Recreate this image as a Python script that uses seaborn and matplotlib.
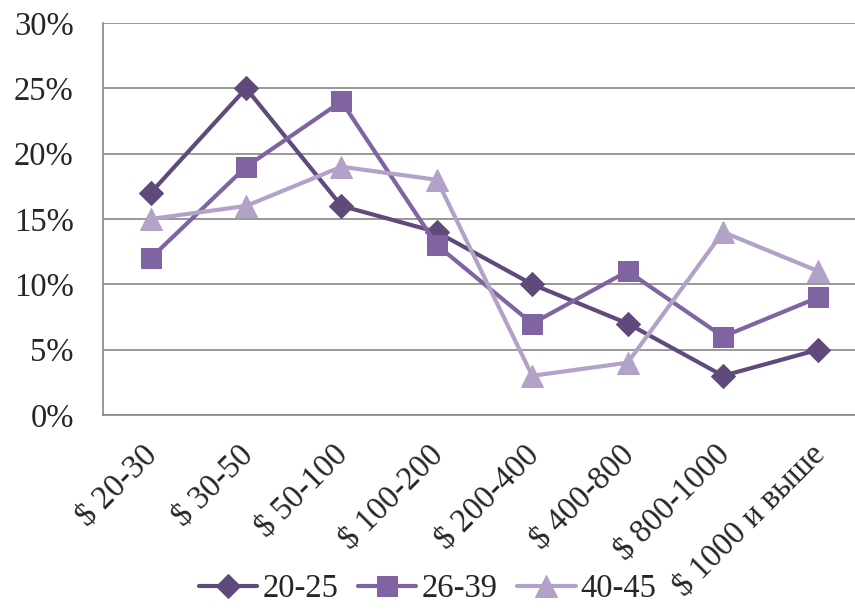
import numpy as np
import pandas as pd
import seaborn as sns
import matplotlib.pyplot as plt
from matplotlib.ticker import FixedLocator, PercentFormatter
from matplotlib.transforms import ScaledTranslation

categories = ["$ 20-30", "$ 30-50", "$ 50-100", "$ 100-200", "$ 200-400",
              "$ 400-800", "$ 800-1000", "$ 1000 и выше"]
groups = ["20-25", "26-39", "40-45"]
vals_20_25 = [17, 25, 16, 14, 10, 7, 3, 5]
vals_26_39 = [12, 19, 24, 13, 7, 11, 6, 9]
vals_40_45 = [15, 16, 19, 18, 3, 4, 14, 11]

colors = ["#604a7b", "#8064a2", "#b3a2c7"]
markers = ["D", "s", "^"]
msizes = [12, 15, 16]

df = pd.DataFrame({
    "cat": categories * 3,
    "group": np.repeat(groups, len(categories)),
    "value": vals_20_25 + vals_26_39 + vals_40_45,
})
df["x"] = df["cat"].map({c: i for i, c in enumerate(categories)})

sns.set_style("white")
plt.rcParams["font.family"] = ["Liberation Serif", "DejaVu Serif"]

fig = plt.figure(figsize=(8.55, 6.09), dpi=100)
ax = fig.add_axes([0.1205, 0.3186, 0.8925, 0.6436])

for g, c, m, ms in zip(groups, colors, markers, msizes):
    sub = df[df["group"] == g]
    sns.lineplot(data=sub, x="x", y="value", ax=ax, color=c, linewidth=3,
                 marker=m, markersize=ms, markeredgecolor=c, label=g,
                 sort=False)

grid_c = "#868686"
fs = 23.5
ax.set_xlim(-0.5, 7.5)
ax.set_ylim(0, 30)
ax.set_yticks(range(0, 31, 5))
ax.yaxis.set_major_formatter(PercentFormatter(decimals=0))
ax.grid(axis="y", color=grid_c, linewidth=1.2)
ax.set_axisbelow(True)

ax.set_xticks(range(len(categories)))
ax.set_xticklabels(categories, rotation=45, ha="right", rotation_mode="anchor")
ax.xaxis.set_minor_locator(FixedLocator(np.arange(-0.5, 8, 1)))
ax.tick_params(axis="x", which="major", length=0, pad=16, labelsize=fs)
ax.tick_params(axis="x", which="minor", length=8, color=grid_c, width=1.2)
ax.tick_params(axis="y", length=9, color=grid_c, width=1.2, labelsize=fs, pad=12)

# nudge rotated labels slightly left/down
shift = ScaledTranslation(-0.09, -0.02, fig.dpi_scale_trans)
for lab in ax.get_xticklabels():
    lab.set_transform(lab.get_transform() + shift)

for s in ["top", "right"]:
    ax.spines[s].set_visible(False)
for s in ["left", "bottom"]:
    ax.spines[s].set_color(grid_c)
    ax.spines[s].set_linewidth(1.2)

ax.set_xlabel("")
ax.set_ylabel("")
ax.legend(loc="lower center", bbox_to_anchor=(0.5, -0.04), bbox_transform=fig.transFigure,
          ncol=3, frameon=False, fontsize=fs, handlelength=1.8, handletextpad=0.15,
          columnspacing=0.6)

plt.savefig("out.png", dpi=100)
plt.close()
